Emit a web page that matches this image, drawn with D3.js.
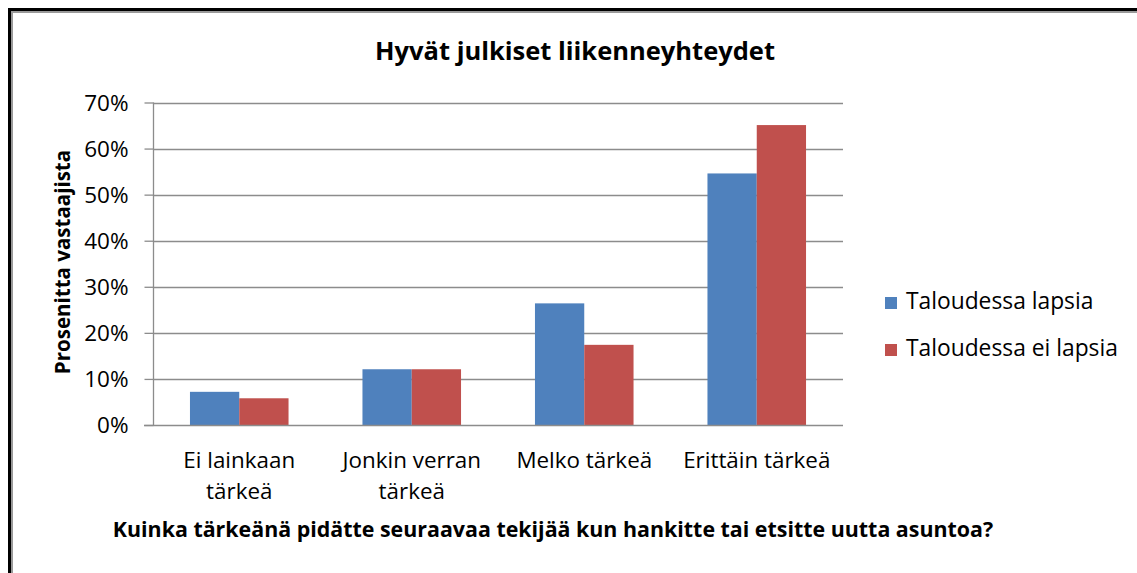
<!DOCTYPE html>
<html>
<head>
<meta charset="utf-8">
<script src="https://cdn.jsdelivr.net/npm/d3@7"></script>
<style>
  html, body { margin: 0; padding: 0; background: #fff; }
  svg { display: block; font-family: "Open Sans", Lato, sans-serif; }
</style>
</head>
<body>
<svg id="chart" width="1137" height="573"></svg>
<script>
const categories = ["Ei lainkaan\ntärkeä", "Jonkin verran\ntärkeä", "Melko tärkeä", "Erittäin tärkeä"];
const seriesNames = ["Taloudessa lapsia", "Taloudessa ei lapsia"];
const lapsia = [7.2, 12.1, 26.4, 54.6];
const eiLapsia = [5.8, 12.1, 17.4, 65.1];
const yTicks = [0, 10, 20, 30, 40, 50, 60, 70];
const colors = ["#4F81BD", "#C0504D"];
const title = "Hyvät julkiset liikenneyhteydet";
const yTitle = "Prosenitta vastaajista";
const xTitle = "Kuinka tärkeänä pidätte seuraavaa tekijää kun hankitte tai etsitte uutta asuntoa?";

const series = [lapsia, eiLapsia];
const svg = d3.select("#chart");
const FONT = "'Open Sans', Lato, sans-serif";

// frame
svg.append("rect").attr("x", 8).attr("y", 8).attr("width", 1129).attr("height", 3).attr("fill", "#000");
svg.append("rect").attr("x", 8).attr("y", 8).attr("width", 3).attr("height", 565).attr("fill", "#000");
svg.append("rect").attr("x", 11).attr("y", 11).attr("width", 1126).attr("height", 2).attr("fill", "#9a9a9a");
svg.append("rect").attr("x", 11).attr("y", 11).attr("width", 2).attr("height", 562).attr("fill", "#9a9a9a");

const pLeft = 153, pRight = 843, pTop = 102.5, pBottom = 425;
const x = d3.scaleBand().domain(categories).range([pLeft, pRight]).padding(0);
const y = d3.scaleLinear().domain([0, 70]).range([pBottom, pTop]);
const groupW = x.bandwidth() * 2 / 3.5;
const xi = d3.scaleBand().domain([0, 1]).range([0, groupW]).padding(0);

// gridlines
svg.append("g").selectAll("line").data(yTicks.filter(d => d > 0)).join("line")
  .attr("x1", pLeft).attr("x2", pRight)
  .attr("y1", d => Math.round(y(d)) + 0.5).attr("y2", d => Math.round(y(d)) + 0.5)
  .attr("stroke", "#8c8c8c").attr("stroke-width", 1.3);

// bars
const g = svg.append("g");
series.forEach((vals, si) => {
  g.append("g").selectAll("rect").data(vals).join("rect")
    .attr("x", (d, i) => x(categories[i]) + (x.bandwidth() - groupW) / 2 + xi(si))
    .attr("width", xi.bandwidth())
    .attr("y", d => y(d))
    .attr("height", d => y(0) - y(d))
    .attr("fill", colors[si]);
});

// y axis
const yAxis = svg.append("g").attr("transform", `translate(${pLeft + 0.5},0)`)
  .call(d3.axisLeft(y).tickValues(yTicks).tickSize(9).tickPadding(16).tickFormat(d => d + "%"));
yAxis.select(".domain").attr("stroke", "#8c8c8c").attr("stroke-width", 1.3).attr("d", `M0,${pTop}V${pBottom}`);
yAxis.selectAll(".tick line").attr("stroke", "#8c8c8c").attr("stroke-width", 1.3);
yAxis.selectAll(".tick text").attr("font-size", 22.5).attr("fill", "#000").attr("font-family", FONT).attr("dy", "0.35em");

// x axis line
const xAxis = svg.append("g").attr("transform", `translate(0,${Math.round(pBottom) + 0.5})`)
  .call(d3.axisBottom(x).tickSize(0).tickFormat(""));
xAxis.select(".domain").attr("stroke", "#8c8c8c").attr("stroke-width", 1.3).attr("d", `M${pLeft - 9},0H${pRight}`);

// x labels
xAxis.selectAll(".tick text").remove();
xAxis.selectAll(".tick").each(function(d) {
  const t = d3.select(this).append("text").attr("text-anchor", "middle")
    .attr("font-size", 22.4).attr("fill", "#000").attr("font-family", FONT);
  d.split("\n").forEach((line, i) => {
    t.append("tspan").attr("x", 0).attr("y", 42 + i * 31.5).text(line);
  });
});

// title
svg.append("text").attr("x", 575).attr("y", 60).attr("text-anchor", "middle")
  .attr("font-size", 25.5).attr("font-weight", "bold").attr("fill", "#000").text(title);

// y title
svg.append("text").attr("transform", "translate(70,262) rotate(-90)").attr("text-anchor", "middle")
  .attr("font-size", 20.5).attr("font-weight", "bold").attr("fill", "#000").text(yTitle);

// x title
svg.append("text").attr("x", 553).attr("y", 537).attr("text-anchor", "middle")
  .attr("font-size", 21.4).attr("font-weight", "bold").attr("fill", "#000").text(xTitle);

// legend
const leg = svg.append("g");
seriesNames.forEach((name, i) => {
  const by = 309 + i * 47;
  leg.append("rect").attr("x", 885).attr("y", by - 12).attr("width", 12).attr("height", 12).attr("fill", colors[i]);
  leg.append("text").attr("x", 906).attr("y", by).attr("font-size", 22.8).attr("fill", "#000").text(name);
});
</script>
</body>
</html>
